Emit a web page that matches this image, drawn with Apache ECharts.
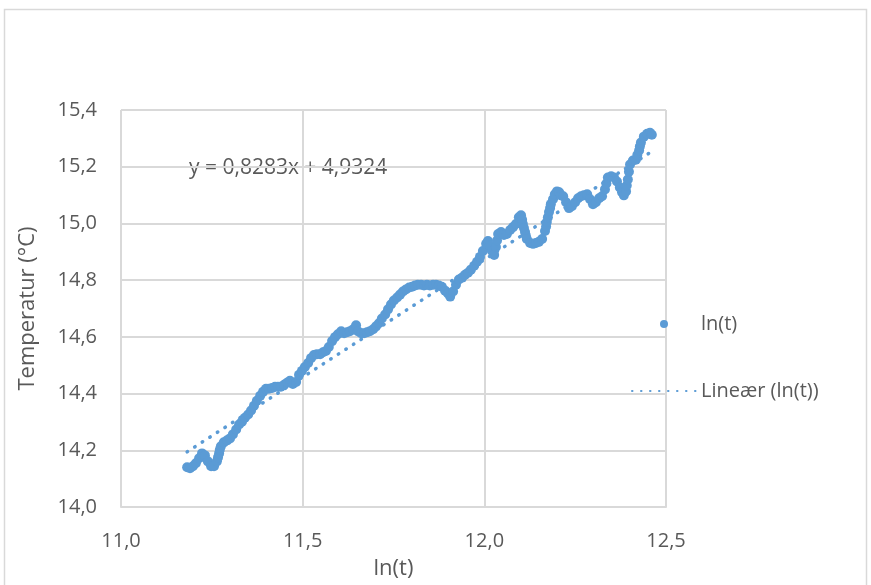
<!DOCTYPE html>
<html>
<head>
<meta charset="utf-8">
<script src="https://cdn.jsdelivr.net/npm/echarts@6/dist/echarts.min.js"></script>
<style>
  html, body { margin: 0; padding: 0; background: #ffffff; }
  #chart { width: 871px; height: 585px; }
</style>
</head>
<body>
<div id="chart"></div>
<script>
// Measured series: x = ln(t), y = temperature in °C
const lnT = [
  11.182, 11.190, 11.198, 11.206, 11.215, 11.223, 11.231, 11.239, 11.248, 11.256,
  11.264, 11.267, 11.270, 11.272, 11.275, 11.283, 11.292, 11.300, 11.308, 11.317,
  11.325, 11.333, 11.341, 11.350, 11.358, 11.366, 11.374, 11.383, 11.391, 11.399,
  11.407, 11.416, 11.424, 11.432, 11.440, 11.449, 11.457, 11.465, 11.473, 11.482,
  11.490, 11.498, 11.506, 11.515, 11.523, 11.531, 11.539, 11.548, 11.556, 11.564,
  11.572, 11.581, 11.589, 11.597, 11.606, 11.614, 11.622, 11.630, 11.639, 11.647,
  11.652, 11.661, 11.669, 11.677, 11.685, 11.694, 11.702, 11.710, 11.718, 11.727,
  11.735, 11.743, 11.751, 11.760, 11.768, 11.776, 11.784, 11.793, 11.801, 11.809,
  11.817, 11.826, 11.834, 11.842, 11.850, 11.859, 11.867, 11.875, 11.883, 11.892,
  11.900, 11.906, 11.914, 11.922, 11.930, 11.939, 11.947, 11.955, 11.963, 11.972,
  11.980, 11.988, 11.996, 12.005, 12.010, 12.016, 12.021, 12.027, 12.032, 12.035,
  12.038, 12.046, 12.054, 12.062, 12.071, 12.079, 12.087, 12.095, 12.101, 12.104,
  12.106, 12.109, 12.112, 12.114, 12.117, 12.126, 12.134, 12.142, 12.150, 12.159,
  12.167, 12.170, 12.172, 12.175, 12.178, 12.181, 12.183, 12.189, 12.194, 12.200,
  12.206, 12.211, 12.217, 12.225, 12.233, 12.241, 12.250, 12.258, 12.266, 12.274,
  12.283, 12.291, 12.299, 12.307, 12.316, 12.324, 12.332, 12.336, 12.340, 12.349,
  12.357, 12.365, 12.373, 12.379, 12.384, 12.390, 12.392, 12.395, 12.398, 12.401,
  12.409, 12.417, 12.421, 12.426, 12.428, 12.431, 12.439, 12.448, 12.456, 12.461
];
const temperature = [
  14.140, 14.137, 14.144, 14.154, 14.172, 14.189, 14.182, 14.161, 14.144, 14.144,
  14.161, 14.175, 14.189, 14.202, 14.214, 14.228, 14.235, 14.242, 14.256, 14.273,
  14.291, 14.301, 14.315, 14.326, 14.340, 14.357, 14.375, 14.392, 14.406, 14.417,
  14.417, 14.420, 14.424, 14.424, 14.424, 14.431, 14.438, 14.445, 14.434, 14.441,
  14.466, 14.480, 14.494, 14.508, 14.525, 14.536, 14.539, 14.539, 14.546, 14.550,
  14.564, 14.585, 14.599, 14.609, 14.620, 14.613, 14.616, 14.620, 14.627, 14.641,
  14.620, 14.613, 14.613, 14.616, 14.620, 14.627, 14.637, 14.648, 14.665, 14.679,
  14.697, 14.714, 14.728, 14.739, 14.749, 14.760, 14.767, 14.774, 14.777, 14.781,
  14.784, 14.784, 14.781, 14.784, 14.781, 14.784, 14.784, 14.781, 14.777, 14.763,
  14.753, 14.742, 14.760, 14.784, 14.802, 14.809, 14.819, 14.826, 14.837, 14.851,
  14.865, 14.882, 14.903, 14.928, 14.938, 14.921, 14.903, 14.889, 14.917, 14.940,
  14.963, 14.970, 14.959, 14.963, 14.977, 14.987, 14.998, 15.022, 15.029, 15.013,
  14.998, 14.984, 14.970, 14.958, 14.945, 14.931, 14.928, 14.931, 14.935, 14.945,
  14.973, 14.989, 15.005, 15.022, 15.040, 15.054, 15.068, 15.085, 15.103, 15.113,
  15.110, 15.099, 15.096, 15.075, 15.054, 15.061, 15.075, 15.089, 15.096, 15.099,
  15.103, 15.085, 15.068, 15.075, 15.089, 15.096, 15.120, 15.141, 15.162, 15.166,
  15.162, 15.148, 15.127, 15.110, 15.099, 15.113, 15.134, 15.155, 15.182, 15.208,
  15.222, 15.225, 15.241, 15.257, 15.271, 15.285, 15.306, 15.316, 15.320, 15.313
];

// Linear trend: y = slope * x + intercept
const trendSlope = 0.8283;
const trendIntercept = 4.9324;
const trendLabel = 'y = 0,8283x + 4,9324';

const seriesName = 'ln(t)';
const trendName = 'Lineær (ln(t))';
const xAxisTitle = 'ln(t)';
const yAxisTitle = 'Temperatur (°C)';

const COLOR = '#5B9BD5';
const TEXT = '#595959';
const GRID = '#d9d9d9';
const FONT = '"Open Sans", "Liberation Sans", sans-serif';

const points = lnT.map((x, i) => [x, temperature[i]]);
const xStart = lnT[0];
const xEnd = lnT[lnT.length - 1];
const trendPoints = [
  [xStart, trendSlope * xStart + trendIntercept],
  [xEnd, trendSlope * xEnd + trendIntercept]
];

const comma = v => v.toFixed(1).replace('.', ',');

const chart = echarts.init(document.getElementById('chart'), null, { renderer: 'canvas' });
chart.setOption({
  animation: false,
  backgroundColor: '#ffffff',
  grid: { left: 121, right: 205, top: 110, bottom: 75, containLabel: false },
  xAxis: {
    type: 'value',
    min: 11, max: 12.5, interval: 0.5,
    name: xAxisTitle,
    nameLocation: 'middle',
    nameGap: 51,
    nameTextStyle: { color: TEXT, fontSize: 22, fontFamily: FONT },
    axisLine: { show: true, lineStyle: { color: GRID, width: 2 } },
    axisTick: { show: false },
    axisLabel: { color: TEXT, fontSize: 20, fontFamily: FONT, margin: 24, formatter: comma },
    splitLine: { show: true, lineStyle: { color: GRID, width: 2 } }
  },
  yAxis: {
    type: 'value',
    min: 14, max: 15.4, interval: 0.2,
    name: yAxisTitle,
    nameLocation: 'middle',
    nameGap: 82,
    nameTextStyle: { color: TEXT, fontSize: 22, fontFamily: FONT },
    axisLine: { show: false },
    axisTick: { show: false },
    axisLabel: { color: TEXT, fontSize: 20, fontFamily: FONT, margin: 24, formatter: comma },
    splitLine: { show: true, lineStyle: { color: GRID, width: 2 } }
  },
  legend: {
    orient: 'vertical',
    left: 626,
    top: 309,
    itemWidth: 64,
    itemHeight: 8,
    itemGap: 47,
    textStyle: { color: TEXT, fontSize: 20, fontFamily: FONT },
    data: [
      { name: seriesName, icon: 'circle' },
      { name: trendName, itemStyle: { opacity: 0 } }
    ]
  },
  series: [
    {
      name: seriesName,
      type: 'scatter',
      data: points,
      symbol: 'circle',
      symbolSize: 10,
      itemStyle: { color: COLOR, opacity: 1 },
      z: 2
    },
    {
      name: trendName,
      type: 'line',
      data: trendPoints,
      showSymbol: false,
      symbol: 'none',
      lineStyle: { color: COLOR, width: 3.5, type: [0.5, 8.5], cap: 'round' },
      itemStyle: { color: COLOR },
      z: 3
    }
  ],
  graphic: [
    {
      type: 'rect',
      shape: { x: 4.5, y: 9.5, width: 862, height: 590 },
      style: { fill: null, stroke: GRID, lineWidth: 1.5 },
      silent: true,
      z: -1
    },
    {
      type: 'text',
      left: 189,
      top: 158,
      style: { text: trendLabel, fill: TEXT, fontSize: 21, fontFamily: FONT }
    }
  ]
});
</script>
</body>
</html>
